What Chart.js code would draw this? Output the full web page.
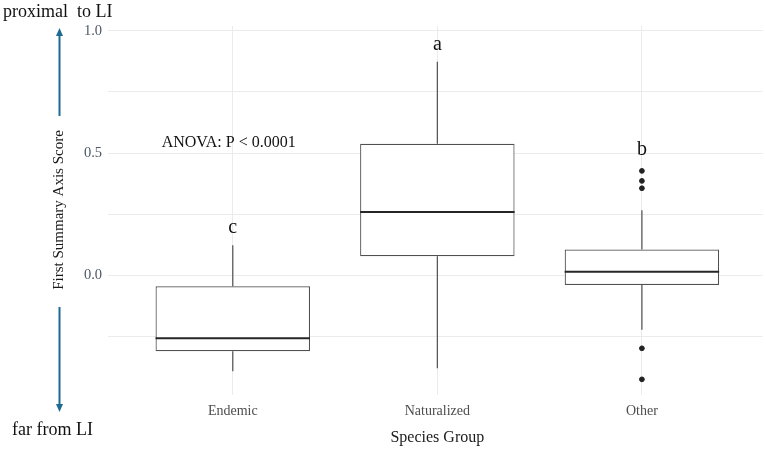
<!DOCTYPE html>
<html>
<head>
<meta charset="utf-8">
<script src="https://cdn.jsdelivr.net/npm/chart.js@4/dist/chart.umd.min.js"></script>
<style>
  html, body { margin: 0; padding: 0; background: #ffffff; }
  #wrap { width: 766px; height: 452px; position: relative; }
</style>
</head>
<body>
<div id="wrap"><canvas id="c" width="766" height="452"></canvas></div>
<script>
// ---- data ----
const categories = ["Endemic", "Naturalized", "Other"];
const whiskerLow  = [-0.393, -0.381, -0.223];
const q1          = [-0.311,  0.078, -0.040];
const median      = [-0.258,  0.259,  0.014];
const q3          = [-0.045,  0.538,  0.105];
const whiskerHigh = [ 0.123,  0.874,  0.266];
const outlierGroup  = [3, 3, 3, 3, 3];
const outlierValues = [0.427, 0.386, 0.356, -0.299, -0.426];
const groupLetters  = ["c", "a", "b"];
const letterY       = [0.193, 0.943, 0.512];
const yTickLabels   = ["0.0", "0.5", "1.0"];

const SERIF = '"Liberation Serif", "Times New Roman", serif';

const boxData = categories.map((c, i) => ({ x: i + 1, y: [q1[i], q3[i]] }));
const outlierData = outlierValues.map((v, i) => ({ x: outlierGroup[i], y: v }));

const boxPlugin = {
  id: 'boxExtras',
  afterDatasetsDraw(chart) {
    const { ctx, scales: { x, y } } = chart;
    const meta = chart.getDatasetMeta(0);
    ctx.save();
    meta.data.forEach((bar, i) => {
      const cx = x.getPixelForValue(i + 1);
      const half = bar.width / 2;
      // whiskers
      ctx.strokeStyle = '#505050';
      ctx.lineWidth = 1.2;
      ctx.beginPath();
      ctx.moveTo(cx, y.getPixelForValue(q3[i]));
      ctx.lineTo(cx, y.getPixelForValue(whiskerHigh[i]));
      ctx.moveTo(cx, y.getPixelForValue(q1[i]));
      ctx.lineTo(cx, y.getPixelForValue(whiskerLow[i]));
      ctx.stroke();
      // median
      ctx.strokeStyle = '#262626';
      ctx.lineWidth = 2;
      ctx.beginPath();
      const my = y.getPixelForValue(median[i]);
      ctx.moveTo(cx - half, my);
      ctx.lineTo(cx + half, my);
      ctx.stroke();
      // group letters
      ctx.fillStyle = '#111111';
      ctx.font = '20px ' + SERIF;
      ctx.textAlign = 'center';
      ctx.textBaseline = 'middle';
      ctx.fillText(groupLetters[i], cx, y.getPixelForValue(letterY[i]));
    });
    // ANOVA annotation
    ctx.fillStyle = '#111111';
    ctx.font = '16px ' + SERIF;
    ctx.textAlign = 'center';
    ctx.textBaseline = 'middle';
    ctx.fillText('ANOVA: P < 0.0001', x.getPixelForValue(0.98), y.getPixelForValue(0.541));
    ctx.restore();
  },
  afterDraw(chart) {
    const { ctx, scales: { x } } = chart;
    ctx.save();
    // x axis title
    ctx.fillStyle = '#1a1a1a';
    ctx.font = '16px ' + SERIF;
    ctx.textAlign = 'center';
    ctx.textBaseline = 'middle';
    ctx.fillText('Species Group', x.getPixelForValue(2), 438);
    // top / bottom labels
    ctx.fillStyle = '#111111';
    ctx.font = '18px ' + SERIF;
    ctx.textAlign = 'left';
    ctx.textBaseline = 'middle';
    ctx.fillText('proximal  to LI', 3, 12);
    ctx.fillText('far from LI', 12, 430);
    // arrow
    const ax = 59.5;
    const col = '#1d6a92';
    ctx.strokeStyle = col;
    ctx.fillStyle = col;
    ctx.lineWidth = 2;
    ctx.beginPath();
    ctx.moveTo(ax, 33); ctx.lineTo(ax, 116);
    ctx.moveTo(ax, 307); ctx.lineTo(ax, 406);
    ctx.stroke();
    ctx.beginPath();
    ctx.moveTo(ax, 28); ctx.lineTo(ax - 3.5, 36); ctx.lineTo(ax + 3.5, 36); ctx.closePath();
    ctx.fill();
    ctx.beginPath();
    ctx.moveTo(ax, 412); ctx.lineTo(ax - 3.5, 404); ctx.lineTo(ax + 3.5, 404); ctx.closePath();
    ctx.fill();
    // rotated y title
    ctx.translate(ax, 210);
    ctx.rotate(-Math.PI / 2);
    ctx.fillStyle = '#1a1a1a';
    ctx.font = '15px ' + SERIF;
    ctx.textAlign = 'center';
    ctx.textBaseline = 'middle';
    ctx.fillText('First Summary Axis Score', 0, 0);
    ctx.restore();
  }
};

new Chart(document.getElementById('c'), {
  type: 'bar',
  data: {
    datasets: [
      {
        label: 'box',
        data: boxData,
        backgroundColor: '#ffffff',
        borderColor: '#505050',
        borderWidth: 1.2,
        borderSkipped: false,
        barPercentage: 0.755,
        categoryPercentage: 1.0,
        order: 2
      },
      {
        type: 'scatter',
        label: 'outliers',
        data: outlierData,
        backgroundColor: '#222222',
        borderColor: '#222222',
        pointRadius: 2.4,
        pointHoverRadius: 2.4,
        order: 1
      }
    ]
  },
  options: {
    responsive: false,
    animation: false,
    devicePixelRatio: 1,
    layout: { padding: { left: 0, right: 0, top: 26, bottom: 0 } },
    plugins: { legend: { display: false }, tooltip: { enabled: false } },
    scales: {
      x: {
        type: 'linear',
        min: 0.39,
        max: 3.59,
        offset: false,
        border: { display: false },
        grid: { color: '#ebebeb', lineWidth: 1, drawTicks: false, offset: false },
        ticks: {
          stepSize: 1,
          includeBounds: false,
          padding: 8,
          color: '#4d4d4d',
          font: { family: SERIF, size: 14 },
          callback: (v) => Number.isInteger(v) && v >= 1 && v <= categories.length ? categories[v - 1] : ''
        },
        afterFit: (s) => { s.height = 57; }
      },
      y: {
        type: 'linear',
        min: -0.49,
        max: 1.02,
        border: { display: false },
        grid: { color: '#ebebeb', lineWidth: 1, drawTicks: false },
        ticks: {
          stepSize: 0.25,
          includeBounds: false,
          padding: 6,
          color: '#4d5866',
          font: { family: SERIF, size: 14.5 },
          callback: (v) => {
            const lbl = (Math.round(v * 100) / 100).toFixed(1);
            return Math.abs(v * 2 - Math.round(v * 2)) < 1e-6 && yTickLabels.includes(lbl) ? lbl : '';
          }
        },
        afterFit: (s) => { s.width = 108; }
      }
    }
  },
  plugins: [boxPlugin]
});
</script>
</body>
</html>
